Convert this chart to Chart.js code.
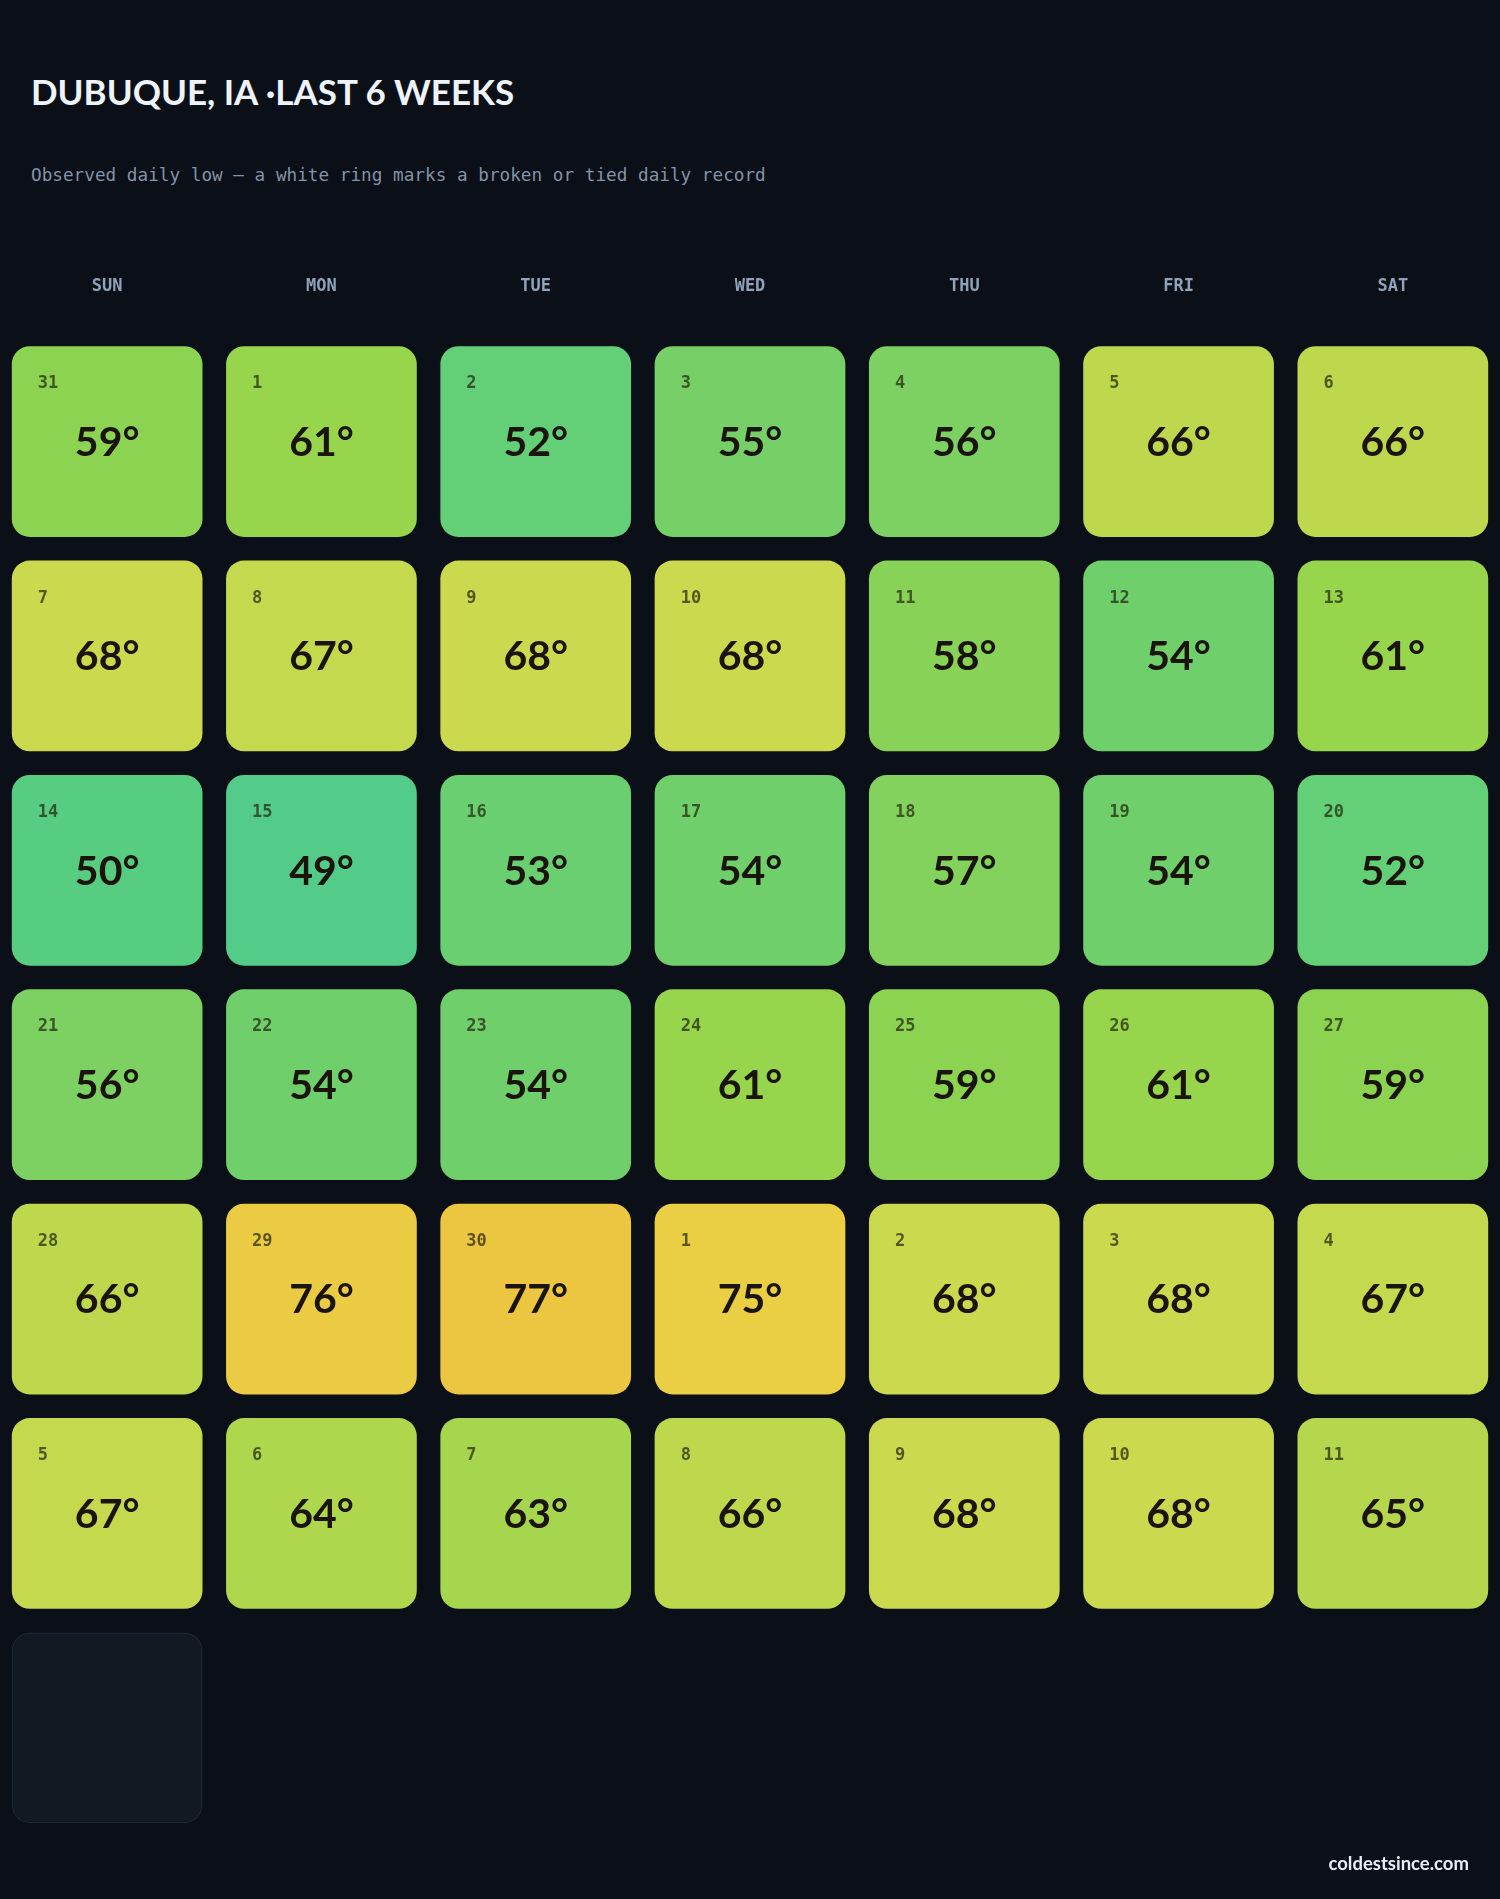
<!DOCTYPE html>
<html lang="en">
<head>
  <meta charset="UTF-8">
  <title>Dubuque, IA - last 6 weeks</title>
  <script src="https://cdn.jsdelivr.net/npm/chart.js"></script>
  <style>
    body {
      margin: 0;
      padding: 0;
      width: 1500px;
      height: 1899px;
      background-color: #0b0f17;
      overflow: hidden;
      position: relative;
      font-family: Lato, 'Noto Sans', sans-serif;
    }
    .title {
      position: absolute;
      left: 31px;
      top: 70px;
      margin: 0;
      font-size: 35px;
      font-weight: 700;
      line-height: 42px;
      color: #eef3fa;
      white-space: nowrap;
    }
    .subtitle {
      position: absolute;
      left: 31px;
      top: 163px;
      margin: 0;
      font-family: 'DejaVu Sans Mono', monospace;
      font-size: 17.7px;
      line-height: 24px;
      color: #8194aa;
      white-space: nowrap;
    }
    .footer {
      position: absolute;
      right: 31px;
      top: 1852px;
      font-size: 18.5px;
      font-weight: 700;
      line-height: 22px;
      color: #e9eef5;
    }
    .chart-box {
      position: absolute;
      left: 0;
      top: 0;
      width: 1500px;
      height: 1899px;
    }
  </style>
</head>
<body>
  <h1 class="title">DUBUQUE, IA ·LAST 6 WEEKS</h1>
  <p class="subtitle">Observed daily low — a white ring marks a broken or tied daily record</p>
  <div class="chart-box">
    <canvas id="calChart"></canvas>
  </div>
  <div class="footer">coldestsince.com</div>

  <script>
    // weekday columns
    const dayLabels = ['SUN', 'MON', 'TUE', 'WED', 'THU', 'FRI', 'SAT'];

    // day of month, row by row (last row has one future / empty cell)
    const dates = [
      31, 1, 2, 3, 4, 5, 6,
      7, 8, 9, 10, 11, 12, 13,
      14, 15, 16, 17, 18, 19, 20,
      21, 22, 23, 24, 25, 26, 27,
      28, 29, 30, 1, 2, 3, 4,
      5, 6, 7, 8, 9, 10, 11,
      null
    ];

    // observed daily low, deg F
    const lows = [
      59, 61, 52, 55, 56, 66, 66,
      68, 67, 68, 68, 58, 54, 61,
      50, 49, 53, 54, 57, 54, 52,
      56, 54, 54, 61, 59, 61, 59,
      66, 76, 77, 75, 68, 68, 67,
      67, 64, 63, 66, 68, 68, 65,
      null
    ];

    // colour ramp stops (temp -> colour)
    const rampTemps = [49, 50, 52, 54, 56, 59, 61, 63, 66, 68, 75, 77];
    const rampColors = ['#52cc88', '#57cd81', '#63cf76', '#6fcf6b', '#7cd162', '#8dd352',
                        '#97d54d', '#a6d64d', '#bdd84d', '#cbd94e', '#eacf44', '#ecc641'];

    const CELL = 0.89; // share of a slot a cell fills

    function hexToRgb(h) {
      const n = parseInt(h.slice(1), 16);
      return [(n >> 16) & 255, (n >> 8) & 255, n & 255];
    }

    function tempColor(t) {
      if (t == null) return '#121922';
      if (t <= rampTemps[0]) return rampColors[0];
      for (let i = 1; i < rampTemps.length; i++) {
        if (t <= rampTemps[i]) {
          const f = (t - rampTemps[i - 1]) / (rampTemps[i] - rampTemps[i - 1]);
          const a = hexToRgb(rampColors[i - 1]), b = hexToRgb(rampColors[i]);
          const c = a.map((v, k) => Math.round(v + (b[k] - v) * f));
          return 'rgb(' + c.join(',') + ')';
        }
      }
      return rampColors[rampColors.length - 1];
    }

    const inset = (1 - CELL) / 2;
    const cells = lows.map((t, i) => {
      const week = Math.floor(i / 7);
      return { x: dayLabels[i % 7], y: [week + inset, week + 1 - inset] };
    });

    // writes the date and the temperature inside each cell
    const cellText = {
      id: 'cellText',
      afterDatasetsDraw(chart) {
        const ctx = chart.ctx;
        const meta = chart.getDatasetMeta(0);
        ctx.save();
        meta.data.forEach((bar, i) => {
          if (lows[i] == null) return;
          const p = bar.getProps(['x', 'y', 'base', 'width'], true);
          const top = Math.min(p.y, p.base);
          const bottom = Math.max(p.y, p.base);
          const left = p.x - p.width / 2;

          ctx.fillStyle = 'rgba(34, 38, 12, 0.72)';
          ctx.font = 'bold 17px "DejaVu Sans Mono", monospace';
          ctx.textAlign = 'left';
          ctx.textBaseline = 'alphabetic';
          ctx.fillText(String(dates[i]), left + 26, top + 42);

          ctx.fillStyle = '#1b140c';
          ctx.font = 'bold 41px Lato, sans-serif';
          ctx.textAlign = 'center';
          ctx.textBaseline = 'middle';
          ctx.fillText(lows[i] + '°', p.x, (top + bottom) / 2 + 1);
        });
        ctx.restore();
      }
    };

    new Chart(document.getElementById('calChart'), {
      type: 'bar',
      data: {
        labels: dayLabels,
        datasets: [{
          label: 'Daily low',
          data: cells,
          backgroundColor: lows.map(tempColor),
          borderColor: lows.map(t => t == null ? '#1c2735' : 'rgba(0,0,0,0)'),
          borderWidth: lows.map(t => t == null ? 1.5 : 0),
          borderRadius: 18,
          borderSkipped: false,
          categoryPercentage: CELL,
          barPercentage: 1.0
        }]
      },
      options: {
        responsive: true,
        maintainAspectRatio: false,
        animation: false,
        layout: {
          padding: { top: 239, bottom: 64, left: 0, right: 0 }
        },
        plugins: {
          legend: { display: false },
          tooltip: { enabled: false }
        },
        scales: {
          x: {
            position: 'top',
            grid: { display: false, drawTicks: false },
            border: { display: false },
            ticks: {
              color: '#8fa2ba',
              padding: 37.5,
              font: { family: 'DejaVu Sans Mono', size: 17, weight: 'bold' }
            }
          },
          y: {
            display: false,
            min: 0,
            max: 7,
            reverse: true
          }
        }
      },
      plugins: [cellText]
    });
  </script>
</body>
</html>
